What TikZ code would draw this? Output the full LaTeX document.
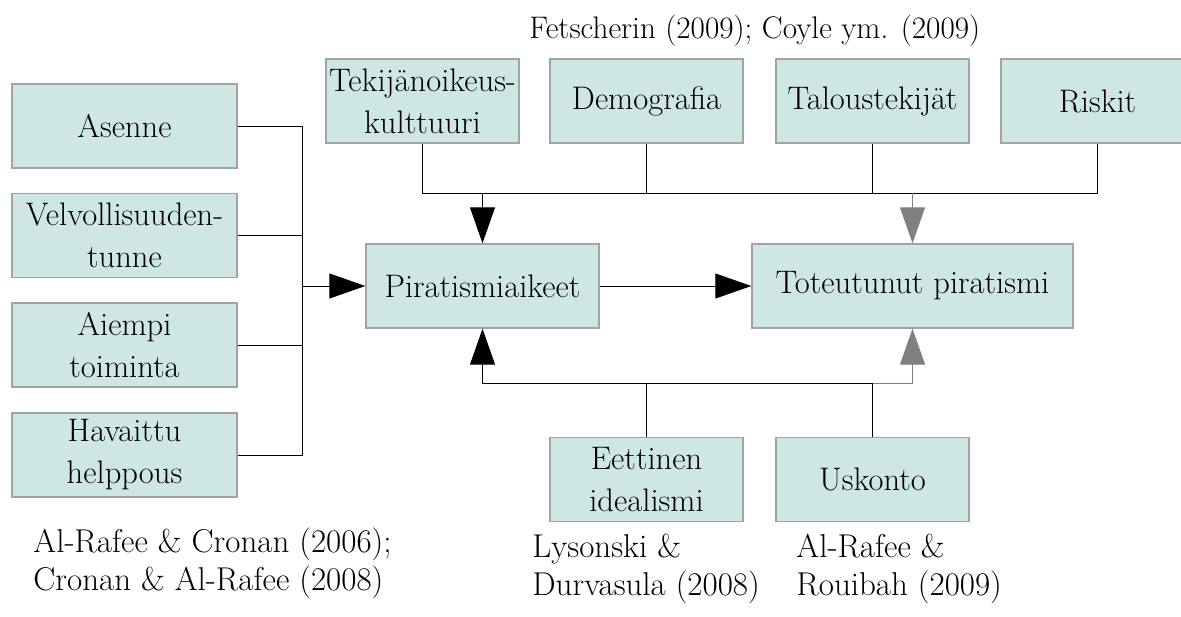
\documentclass[tikz,border=0pt]{standalone}
\usetikzlibrary{arrows.meta}
\definecolor{boxfill}{HTML}{CFE7E4}
\definecolor{boxline}{HTML}{A3A3A3}
\definecolor{grayarrow}{HTML}{808080}
\begin{document}
\begin{tikzpicture}[x=0.5pt,y=-0.5pt,
  box/.style={draw=boxline,fill=boxfill,line width=0.7pt,inner sep=0pt,align=center,font=\fontsize{16.3}{21}\selectfont},
  leftbox/.style={box,minimum width=112.5pt,minimum height=42pt},
  topbox/.style={box,minimum width=96.5pt,minimum height=42pt},
  midbox/.style={box,minimum height=42pt},
  cite/.style={align=left,inner sep=0pt,font=\fontsize{16.5}{19}\selectfont},
  conn/.style={line width=0.5pt},
  arr/.style={conn,-{Triangle[length=18pt,width=12.5pt]}},
  garr/.style={arr,color=grayarrow}
]
\useasboundingbox (0,0) rectangle (1181,616);
\clip (0,0) rectangle (1181,616);

% left boxes
\node[leftbox] (asenne) at (124.5,126) {Asenne};
\node[leftbox] (velv) at (124.5,235.5) {Velvollisuuden-\\tunne};
\node[leftbox] (aiempi) at (124.5,345) {Aiempi\\toiminta};
\node[leftbox] (havaittu) at (124.5,455) {Havaittu\\helppous};

% top boxes
\node[topbox] (tek) at (422.5,101) {Tekijänoikeus-\\kulttuuri};
\node[topbox] (demo) at (646.5,101) {Demografia};
\node[topbox] (talous) at (872.5,101) {Taloustekijät};
\node[topbox] (riskit) at (1097.5,101) {Riskit};

% middle boxes
\node[midbox,minimum width=116.5pt] (pirat) at (482.5,286) {Piratismiaikeet};
\node[midbox,minimum width=160.5pt] (tot) at (912.5,286) {Toteutunut piratismi};

% bottom boxes
\node[topbox] (eet) at (646.5,479.5) {Eettinen\\idealismi};
\node[topbox] (usk) at (872.5,479.5) {Uskonto};

% citations (base anchor = baseline of last line)
\node[cite,anchor=base west,font=\fontsize{15.6}{19}\selectfont] (c1) at (529,38) {Fetscherin (2009); Coyle ym. (2009)};
\node[cite,anchor=base west] (c2) at (33,590) {Al-Rafee \& Cronan (2006);\\Cronan \& Al-Rafee (2008)};
\node[cite,anchor=base west] (c3) at (532,595) {Lysonski \&\\Durvasula (2008)};
\node[cite,anchor=base west] (c4) at (796,595) {Al-Rafee \&\\Rouibah (2009)};

% left connectors
\coordinate (lj) at (302,286);
\draw[conn] (asenne.east) -| (lj);
\draw[conn] (havaittu.east) -| (lj);
\draw[conn] (velv.east) -- (velv.east -| lj);
\draw[conn] (aiempi.east) -- (aiempi.east -| lj);
\draw[arr] (lj) -- (pirat.west);

% top connectors
\coordinate (tb) at (0,193);
\draw[conn] (tek.south) -- (tek.south |- tb) -- (riskit.south |- tb) -- (riskit.south);
\draw[conn] (demo.south) -- (demo.south |- tb);
\draw[conn] (talous.south) -- (talous.south |- tb);
\draw[arr] (pirat.north |- tb) -- (pirat.north);
\draw[garr] (tot.north |- tb) -- (tot.north);

% middle arrow
\draw[arr] (pirat.east) -- (tot.west);

% bottom connectors
\coordinate (bb) at (0,383);
\draw[conn] (eet.north) -- (eet.north |- bb);
\draw[conn] (usk.north) -- (usk.north |- bb);
\draw[arr] (usk.north |- bb) -- (pirat.south |- bb) -- (pirat.south);
\draw[garr] (usk.north |- bb) -| (tot.south);
\end{tikzpicture}
\end{document}
